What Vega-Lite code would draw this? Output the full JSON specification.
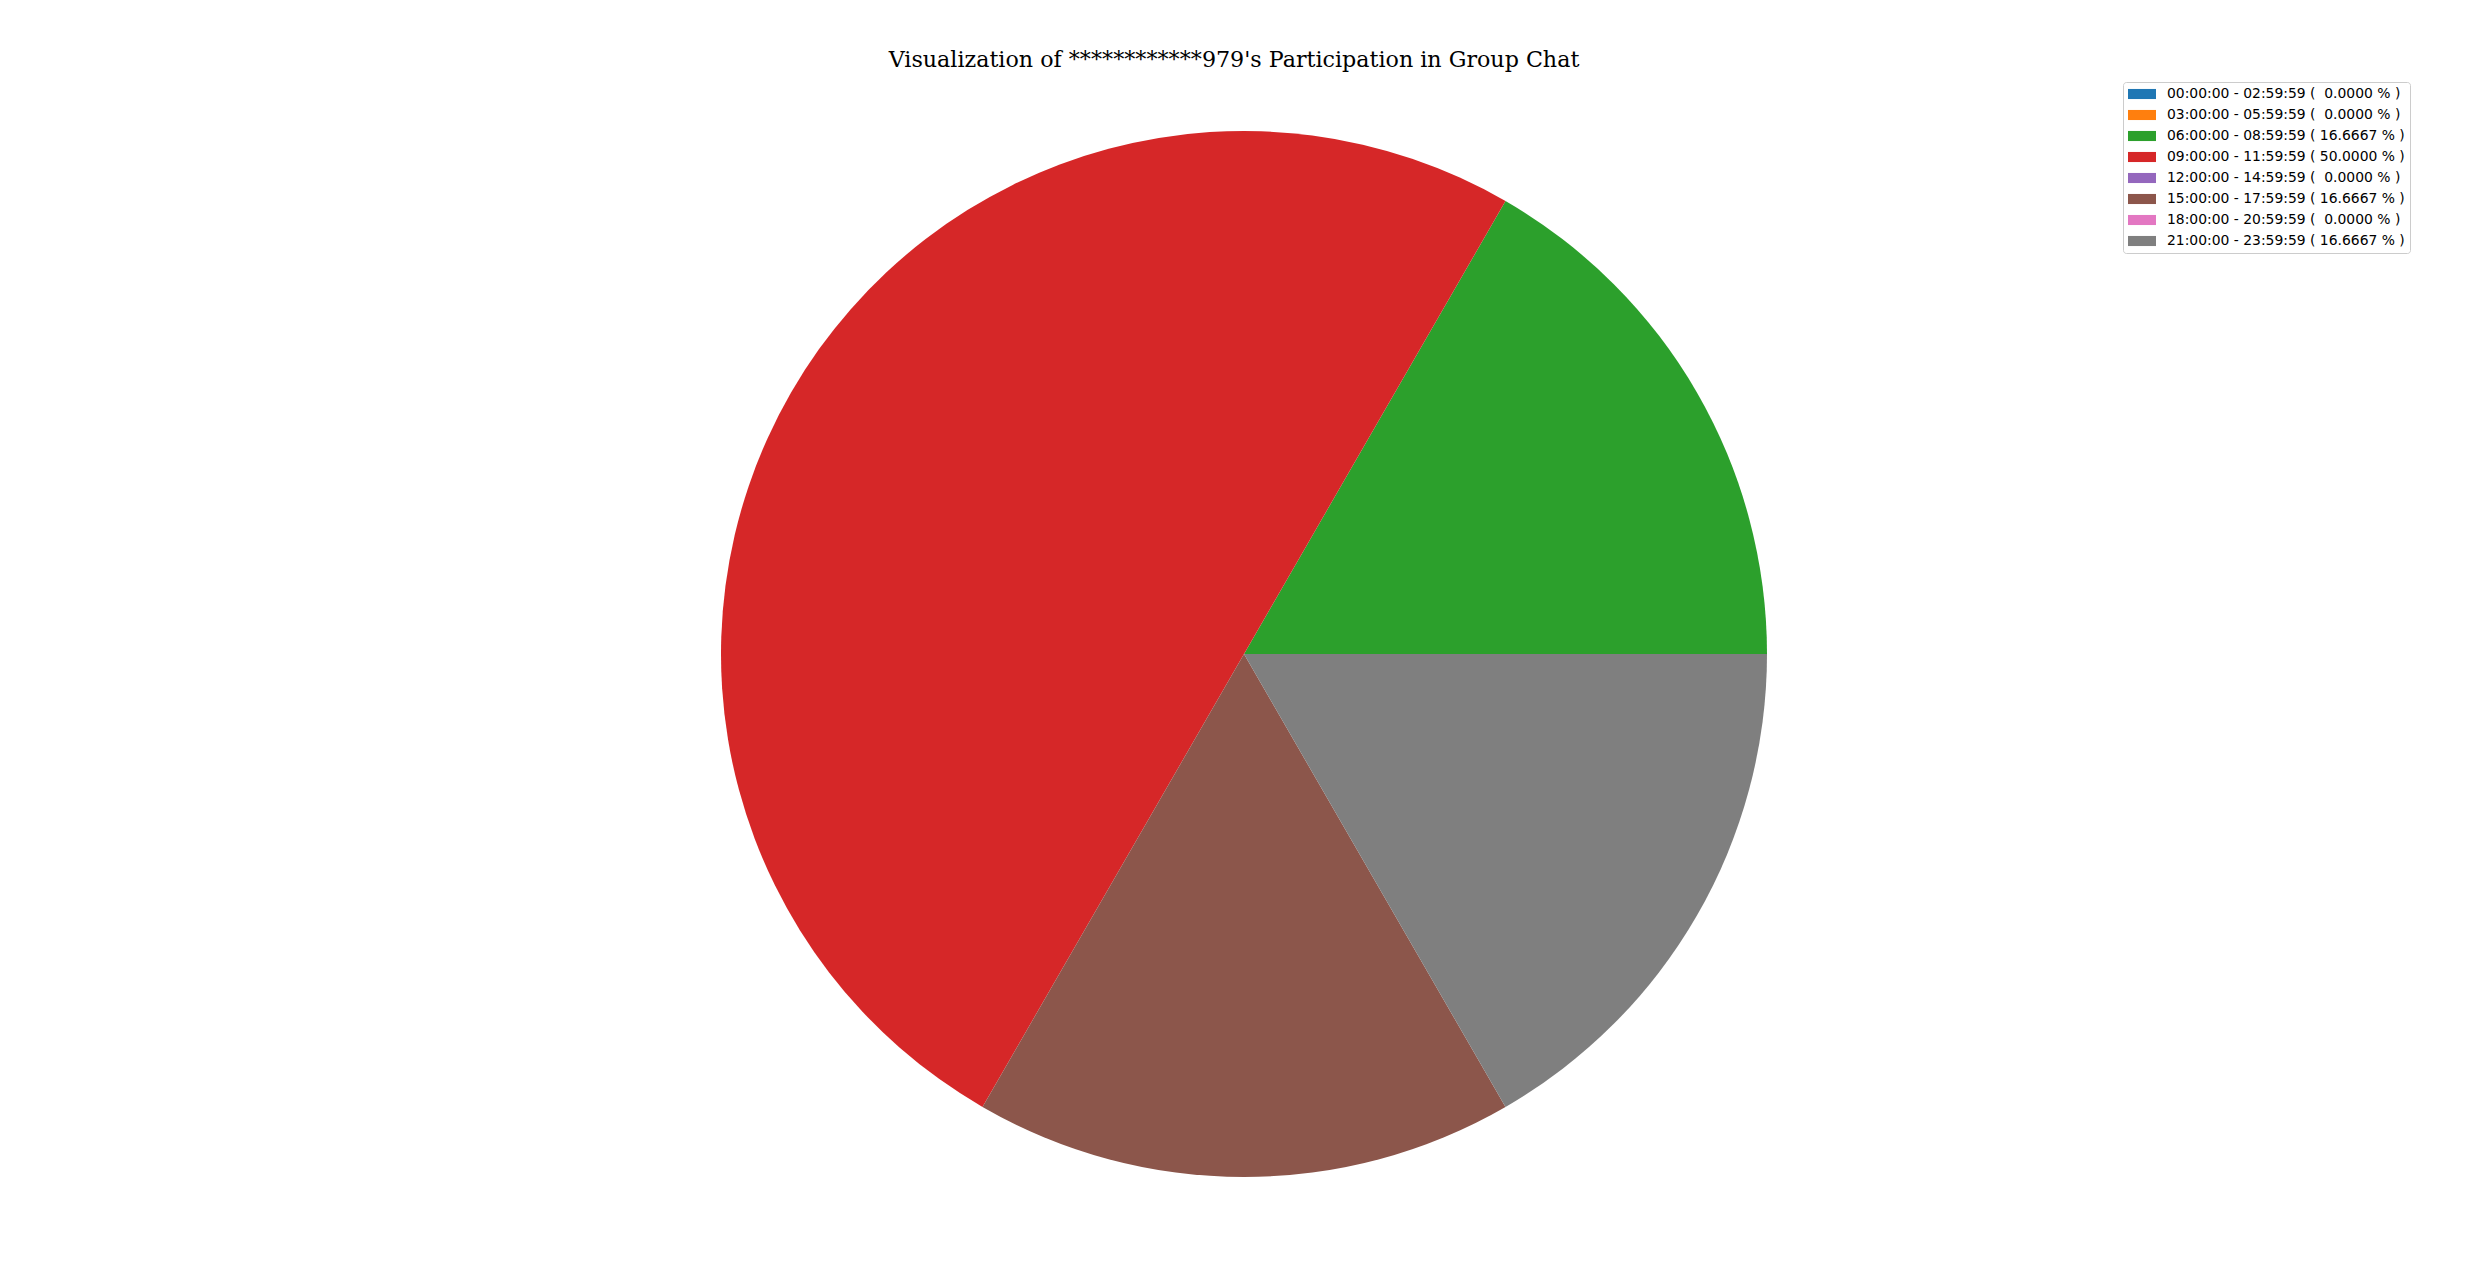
{
  "$schema": "https://vega.github.io/schema/vega-lite/v6.json",
  "description": "Share of one member's messages per three-hour period of the day.",
  "autosize": "none",
  "width": 2452,
  "height": 1232,
  "padding": {"left": 18, "top": 38, "right": 0, "bottom": 0},
  "background": "white",
  "title": {
    "text": "Visualization of ************979's Participation in Group Chat",
    "font": "DejaVu Serif",
    "fontSize": 22.2,
    "fontWeight": "normal",
    "color": "black",
    "anchor": "middle",
    "offset": -36,
    "dx": -10,
    "dy": -3
  },
  "data": {
    "values": [
      {"slot": 0, "label": "00:00:00 - 02:59:59 (\u00a0\u00a00.0000 % )", "share": 0},
      {"slot": 1, "label": "03:00:00 - 05:59:59 (\u00a0\u00a00.0000 % )", "share": 0},
      {"slot": 2, "label": "06:00:00 - 08:59:59 ( 16.6667 % )", "share": 16.6667},
      {"slot": 3, "label": "09:00:00 - 11:59:59 ( 50.0000 % )", "share": 50.0},
      {"slot": 4, "label": "12:00:00 - 14:59:59 (\u00a0\u00a00.0000 % )", "share": 0},
      {"slot": 5, "label": "15:00:00 - 17:59:59 ( 16.6667 % )", "share": 16.6667},
      {"slot": 6, "label": "18:00:00 - 20:59:59 (\u00a0\u00a00.0000 % )", "share": 0},
      {"slot": 7, "label": "21:00:00 - 23:59:59 ( 16.6667 % )", "share": 16.6667}
    ]
  },
  "mark": {"type": "arc", "outerRadius": 523, "stroke": null},
  "encoding": {
    "theta": {
      "field": "share",
      "type": "quantitative",
      "stack": true,
      "scale": {"range": [1.5707963, -4.712389]}
    },
    "order": {"field": "slot", "type": "quantitative"},
    "color": {
      "field": "label",
      "type": "nominal",
      "scale": {
        "domain": [
          "00:00:00 - 02:59:59 (\u00a0\u00a00.0000 % )",
          "03:00:00 - 05:59:59 (\u00a0\u00a00.0000 % )",
          "06:00:00 - 08:59:59 ( 16.6667 % )",
          "09:00:00 - 11:59:59 ( 50.0000 % )",
          "12:00:00 - 14:59:59 (\u00a0\u00a00.0000 % )",
          "15:00:00 - 17:59:59 ( 16.6667 % )",
          "18:00:00 - 20:59:59 (\u00a0\u00a00.0000 % )",
          "21:00:00 - 23:59:59 ( 16.6667 % )"
        ],
        "range": ["#1f77b4", "#ff7f0e", "#2ca02c", "#d62728", "#9467bd", "#8c564b", "#e377c2", "#7f7f7f"]
      },
      "legend": {
        "title": null,
        "orient": "none",
        "legendX": 2105,
        "legendY": 44,
        "padding": 5,
        "strokeColor": "#cccccc",
        "fillColor": "white",
        "cornerRadius": 3,
        "symbolType": "M-1,-0.72L3,-0.72L3,0.72L-1,0.72Z",
        "symbolSize": 196,
        "symbolStrokeWidth": 0,
        "symbolOpacity": 1,
        "labelFont": "DejaVu Sans",
        "labelFontSize": 13.9,
        "labelColor": "black",
        "labelOffset": 25,
        "labelLimit": 400,
        "rowPadding": 7
      }
    }
  },
  "config": {
    "view": {"stroke": null}
  }
}
